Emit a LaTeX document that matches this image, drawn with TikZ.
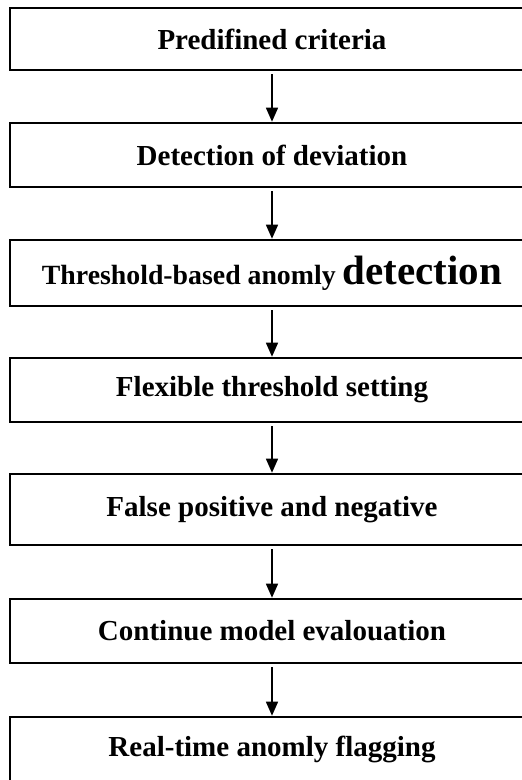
\documentclass[tikz,border=0pt]{standalone}
\usepackage{fontspec}
\setmainfont{Liberation Serif}
\usetikzlibrary{arrows.meta}

\begin{document}
\begin{tikzpicture}[x=1pt, y=-1pt, baseline=(current bounding box.center)]
	% Stile per i riquadri e le frecce
	\tikzset{passo/.style={rectangle, draw, line width=2.6pt, minimum width=524pt, minimum height=64pt, inner sep=0pt, font=\fontsize{29}{31}\selectfont\bfseries},
		freccia/.style={line width=1.4pt, shorten <=3pt, -{Triangle[width=12pt,length=14pt]}}}
	
	% Area della figura
	\clip (0,0) rectangle (522,780);
	\useasboundingbox (0,0) rectangle (522,780);
	
	% Posizionamento riquadri (colonna verticale)
	\node[passo, minimum height=62pt] (1) at (272, 39) {Predifined criteria};
	\node[passo] (2) at (272, 155) {Detection of deviation};
	\node[passo, minimum height=66pt, font=\fontsize{27.8}{30}\selectfont\bfseries] (3) at (272, 273) {Threshold-based anomly {\fontsize{41}{43}\selectfont detection}};
	\node[passo] (4) at (272, 390) {Flexible threshold setting};
	\node[passo, minimum height=71pt] (5) at (272, 509.5) {False positive and negative};
	\node[passo] (6) at (272, 631) {Continue model evalouation};
	\node[passo] (7) at (272, 749) {Real-time anomly flagging};
	
	% Frecce tra i passi
	\draw[freccia] (1) -- (2);
	\draw[freccia] (2) -- (3);
	\draw[freccia] (3) -- (4);
	\draw[freccia] (4) -- (5);
	\draw[freccia] (5) -- (6);
	\draw[freccia] (6) -- (7);
\end{tikzpicture}
\end{document}
